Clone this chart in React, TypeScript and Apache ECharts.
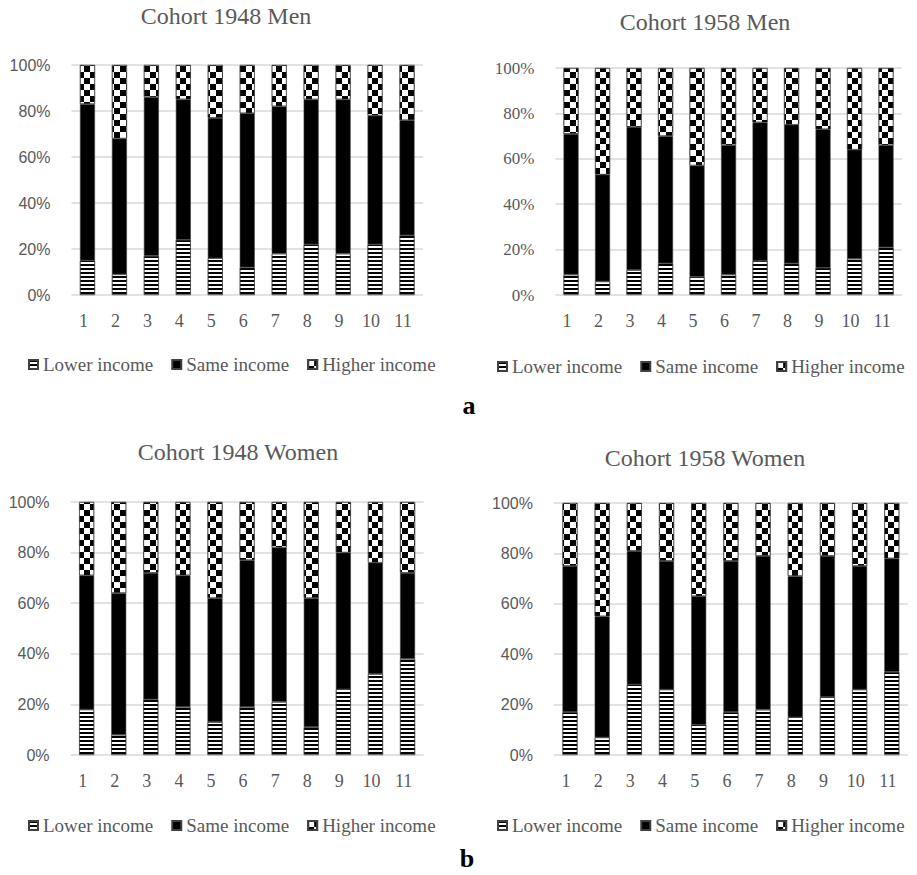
import React, { useEffect, useRef } from 'react';
import * as echarts from 'echarts';

const categories = ['1', '2', '3', '4', '5', '6', '7', '8', '9', '10', '11'];
const seriesNames = ['Lower income', 'Same income', 'Higher income'];
const panelTitles = ['Cohort 1948 Men', 'Cohort 1958 Men', 'Cohort 1948 Women', 'Cohort 1958 Women'];

const men1948Lower = [15, 9, 17, 24, 16, 12, 18, 22, 18, 22, 26];
const men1948Same = [68, 59, 69, 61, 61, 67, 64, 63, 67, 56, 50];
const men1948Higher = [17, 32, 14, 15, 23, 21, 18, 15, 15, 22, 24];

const men1958Lower = [9, 6, 11, 14, 8, 9, 15, 14, 12, 16, 21];
const men1958Same = [62, 47, 63, 56, 49, 57, 61, 61, 61, 48, 45];
const men1958Higher = [29, 47, 26, 30, 43, 34, 24, 25, 27, 36, 34];

const women1948Lower = [18, 8, 22, 19, 13, 19, 21, 11, 26, 32, 38];
const women1948Same = [53, 56, 50, 52, 49, 58, 61, 51, 54, 44, 34];
const women1948Higher = [29, 36, 28, 29, 38, 23, 18, 38, 20, 24, 28];

const women1958Lower = [17, 7, 28, 26, 12, 17, 18, 15, 23, 26, 33];
const women1958Same = [58, 48, 53, 51, 51, 60, 61, 56, 56, 49, 45];
const women1958Higher = [25, 45, 19, 23, 37, 23, 21, 29, 21, 25, 22];

const panelData = [
  [men1948Lower, men1948Same, men1948Higher],
  [men1958Lower, men1958Same, men1958Higher],
  [women1948Lower, women1948Same, women1948Higher],
  [women1958Lower, women1958Same, women1958Higher],
];

const SERIF = '"Liberation Serif", "Times New Roman", serif';
const SANS = '"Liberation Sans", Arial, sans-serif';
const GREY = '#595959';

const panels = [
  { left: 71.5, top: 65, width: 351.5, height: 230, tickFont: SANS, tickSize: 16, titleX: 226, titleY: 16, legendX: 28, legendY: 365 },
  { left: 555.3, top: 68, width: 346.5, height: 227, tickFont: SERIF, tickSize: 17, titleX: 705, titleY: 22, legendX: 497, legendY: 367 },
  { left: 70.6, top: 502, width: 353, height: 253, tickFont: SANS, tickSize: 16, titleX: 238, titleY: 452, legendX: 28, legendY: 826 },
  { left: 553.9, top: 503, width: 354, height: 252, tickFont: SANS, tickSize: 16, titleX: 705, titleY: 458, legendX: 497, legendY: 826 },
];

const stripeDecal = {
  symbol: 'rect',
  symbolSize: 1,
  color: '#000',
  dashArrayX: [10, 0],
  dashArrayY: [2, 2],
  rotation: 0,
};

const checkerDecal = {
  symbol: 'rect',
  symbolSize: 1,
  color: '#000',
  dashArrayX: [[6, 6], [0, 6, 6, 0]],
  dashArrayY: [6, 0],
  rotation: 0,
};

export default function App() {
  const ref = useRef<HTMLDivElement>(null);

  useEffect(() => {
    if (!ref.current) return;
    const chart = echarts.init(ref.current, undefined, { renderer: 'svg' });

    const grid: any[] = [];
    const xAxis: any[] = [];
    const yAxis: any[] = [];
    const series: any[] = [];
    const legend: any[] = [];
    const graphic: any[] = [];

    panels.forEach((p, i) => {
      grid.push({ left: p.left, top: p.top, width: p.width, height: p.height, containLabel: false });
      xAxis.push({
        type: 'category',
        gridIndex: i,
        data: categories,
        axisLine: { show: false },
        axisTick: { show: false },
        axisLabel: {
          margin: 17,
          fontFamily: SERIF,
          fontSize: 18,
          color: GREY,
          padding: [0, 8, 0, 0],
        },
      });
      yAxis.push({
        type: 'value',
        gridIndex: i,
        min: 0,
        max: 100,
        interval: 20,
        axisLine: { show: false },
        axisTick: { show: false },
        axisLabel: {
          formatter: '{value}%',
          margin: 21,
          fontFamily: p.tickFont,
          fontSize: p.tickSize,
          color: GREY,
        },
        splitLine: { lineStyle: { color: '#d9d9d9', width: 1.5 } },
      });
      const [lo, same, hi] = panelData[i];
      const vals = [lo, same, hi];
      seriesNames.forEach((name, k) => {
        const itemStyle: any = {
          color: k === 1 ? '#000' : '#fff',
          borderColor: '#404040',
          borderWidth: 0.6,
        };
        if (k === 0) itemStyle.decal = stripeDecal;
        if (k === 2) itemStyle.decal = checkerDecal;
        series.push({
          type: 'bar',
          name,
          xAxisIndex: i,
          yAxisIndex: i,
          stack: 'panel' + i,
          barWidth: 15,
          data: vals[k],
          itemStyle,
        });
      });
      legend.push({
        data: seriesNames,
        left: p.legendX,
        top: p.legendY - 10,
        padding: 0,
        itemWidth: 9,
        itemHeight: 9,
        itemGap: 18,
        icon: 'rect',
        textStyle: { fontFamily: SERIF, fontSize: 19, color: GREY },
        selectedMode: false,
      });
      graphic.push({
        type: 'text',
        x: p.titleX,
        y: p.titleY,
        style: {
          text: panelTitles[i],
          font: `24px ${SERIF}`,
          fill: GREY,
          align: 'center',
          verticalAlign: 'middle',
          textAlign: 'center',
          textVerticalAlign: 'middle',
        },
      });
    });

    graphic.push({
      type: 'text',
      x: 469,
      y: 405,
      style: { text: 'a', font: `bold 26px ${SERIF}`, fill: '#000', align: 'center', verticalAlign: 'middle', textAlign: 'center', textVerticalAlign: 'middle' },
    });
    graphic.push({
      type: 'text',
      x: 467,
      y: 858,
      style: { text: 'b', font: `bold 26px ${SERIF}`, fill: '#000', align: 'center', verticalAlign: 'middle', textAlign: 'center', textVerticalAlign: 'middle' },
    });

    chart.setOption({
      animation: false,
      backgroundColor: '#fff',
      grid,
      xAxis,
      yAxis,
      series,
      legend,
      graphic,
    });

    return () => chart.dispose();
  }, []);

  return (
    <div
      ref={ref}
      style={{ position: 'fixed', left: 0, top: 0, width: 917, height: 875, background: '#fff' }}
    />
  );
}
